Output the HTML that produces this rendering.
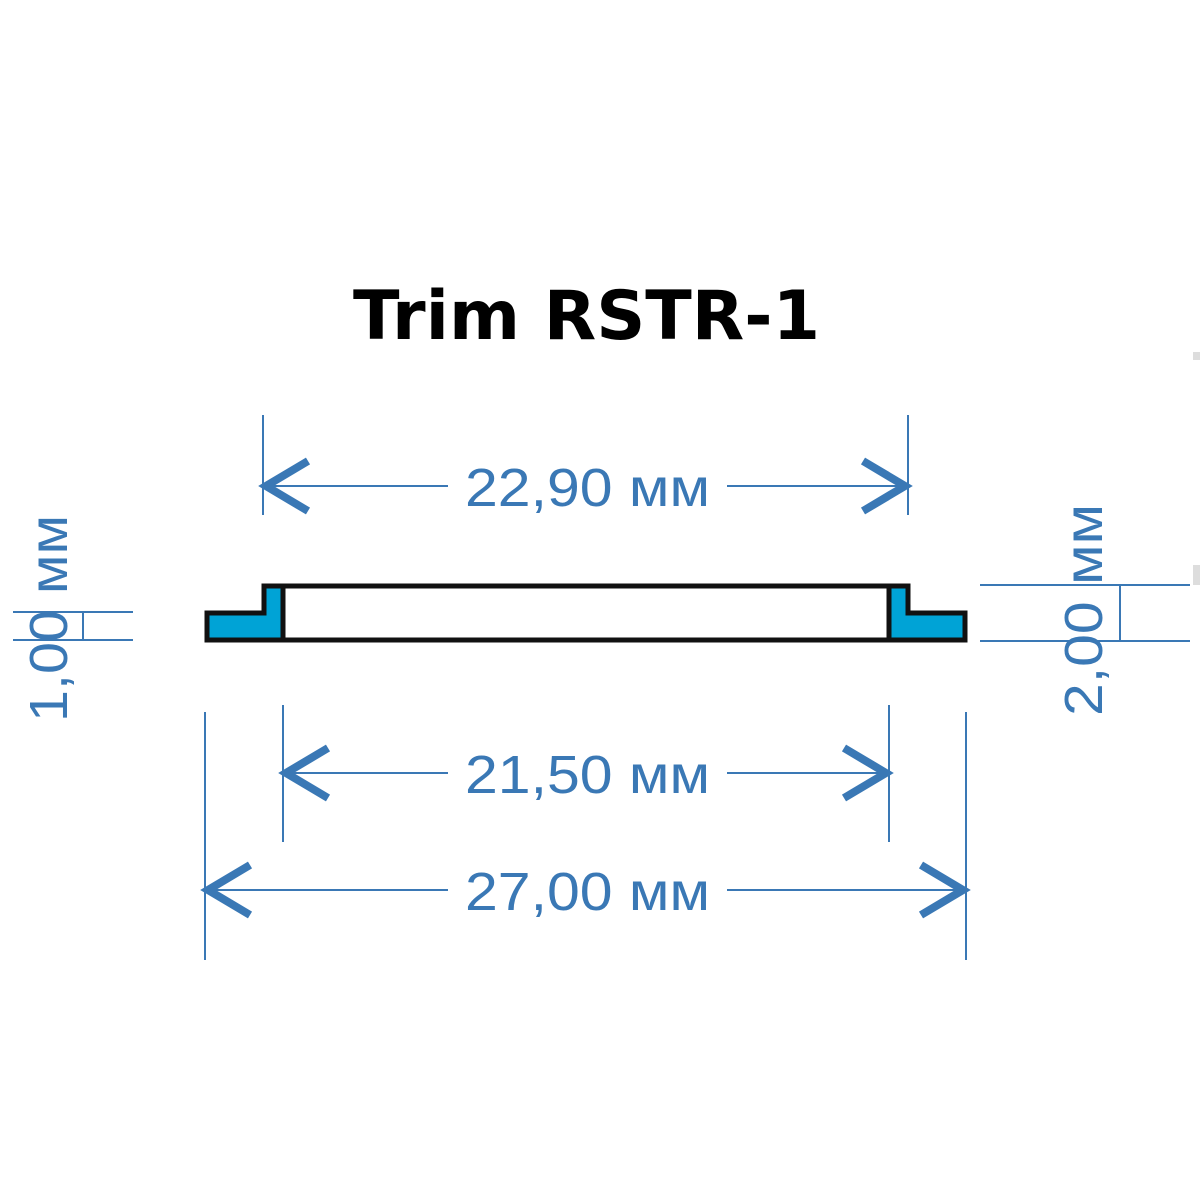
<!DOCTYPE html>
<html><head><meta charset="utf-8"><style>html,body{margin:0;padding:0;background:#fff}svg{display:block}</style></head>
<body>
<svg width="1200" height="1200" viewBox="0 0 1200 1200" xmlns="http://www.w3.org/2000/svg">
<rect width="1200" height="1200" fill="#fff"/>
<text x="353" y="339" font-family="DejaVu Sans, sans-serif" font-weight="bold" font-size="68" textLength="467" lengthAdjust="spacingAndGlyphs" fill="#000">Trim RSTR-1</text>
<rect x="1193" y="352" width="7" height="8" fill="#ddd"/>
<rect x="1193" y="565" width="7" height="20" fill="#ddd"/>
<g stroke="#3a78b5" fill="none">
 <line x1="263" y1="415" x2="263" y2="515" stroke-width="2"/>
 <line x1="908" y1="415" x2="908" y2="515" stroke-width="2"/>
 <line x1="263" y1="486" x2="448" y2="486" stroke-width="2"/>
 <line x1="727" y1="486" x2="908" y2="486" stroke-width="2"/>
 <polyline points="308,461 266,486 308,511" stroke-width="8"/>
 <polyline points="863,461 905,486 863,511" stroke-width="8"/>
 <line x1="283" y1="705" x2="283" y2="842" stroke-width="2"/>
 <line x1="889" y1="705" x2="889" y2="842" stroke-width="2"/>
 <line x1="283" y1="773" x2="448" y2="773" stroke-width="2"/>
 <line x1="727" y1="773" x2="889" y2="773" stroke-width="2"/>
 <polyline points="328,748 286,773 328,798" stroke-width="8"/>
 <polyline points="844,748 886,773 844,798" stroke-width="8"/>
 <line x1="205" y1="712" x2="205" y2="960" stroke-width="2"/>
 <line x1="966" y1="712" x2="966" y2="960" stroke-width="2"/>
 <line x1="205" y1="890" x2="448" y2="890" stroke-width="2"/>
 <line x1="727" y1="890" x2="966" y2="890" stroke-width="2"/>
 <polyline points="250,865 208,890 250,915" stroke-width="8"/>
 <polyline points="921,865 963,890 921,915" stroke-width="8"/>
 <line x1="13" y1="612" x2="133" y2="612" stroke-width="2"/>
 <line x1="13" y1="640" x2="133" y2="640" stroke-width="2"/>
 <line x1="83" y1="612" x2="83" y2="640" stroke-width="2"/>
 <line x1="980" y1="585" x2="1190" y2="585" stroke-width="2"/>
 <line x1="980" y1="641" x2="1190" y2="641" stroke-width="2"/>
 <line x1="1120" y1="585" x2="1120" y2="641" stroke-width="2"/>
</g>
<g font-family="Liberation Sans, sans-serif" font-size="54" fill="#3a78b5">
 <text x="465" y="506" textLength="245" lengthAdjust="spacingAndGlyphs">22,90 мм</text>
 <text x="465" y="793" textLength="245" lengthAdjust="spacingAndGlyphs">21,50 мм</text>
 <text x="465" y="910" textLength="245" lengthAdjust="spacingAndGlyphs">27,00 мм</text>
 <text transform="translate(67,722) rotate(-90)" textLength="207" lengthAdjust="spacingAndGlyphs">1,00 мм</text>
 <text transform="translate(1102,716) rotate(-90)" textLength="212" lengthAdjust="spacingAndGlyphs">2,00 мм</text>
</g>
<rect x="283" y="586" width="606" height="54" fill="#fff" stroke="#111" stroke-width="5"/>
<path d="M207,613 H264 V586 H283 V640 H207 Z" fill="#00a3d6" stroke="#111" stroke-width="5" stroke-linejoin="miter"/>
<path d="M965,613 H908 V586 H889 V640 H965 Z" fill="#00a3d6" stroke="#111" stroke-width="5" stroke-linejoin="miter"/>
</svg>
</body></html>
